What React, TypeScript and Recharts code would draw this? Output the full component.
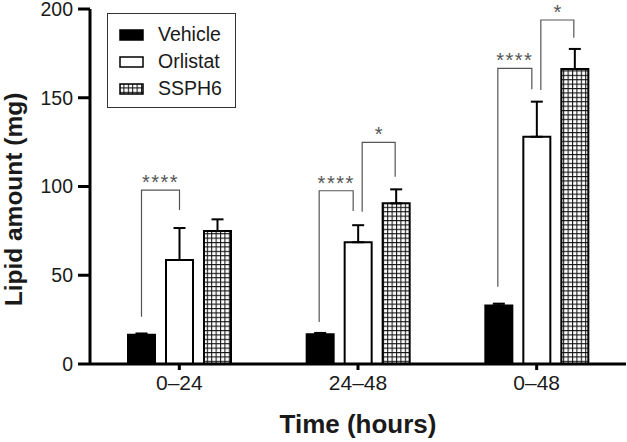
import React from "react";
import { Bar, BarChart, ErrorBar, Legend, Rectangle, XAxis, YAxis } from "recharts";

const categories = ["0–24", "24–48", "0–48"];
const seriesNames = ["Vehicle", "Orlistat", "SSPH6"];
const vehicle = [16.5, 16.8, 33];
const vehicleErr = [0.7, 0.7, 1];
const orlistat = [58.6, 68.6, 128];
const orlistatErr = [18, 9.6, 19.8];
const ssph6 = [74.9, 90.5, 166.2];
const ssph6Err = [6.6, 7.9, 11.3];
const yTicks = [0, 50, 100, 150, 200];

// significance brackets: series index of each leg, value where each leg stops, value of the top line
const brackets = [
  { category: 0, from: 0, to: 1, leftEnd: 26.6, rightEnd: 86.8, top: 98, label: "****" },
  { category: 1, from: 0, to: 1, leftEnd: 23.7, rightEnd: 86.2, top: 97.6, label: "****" },
  { category: 1, from: 1, to: 2, leftEnd: 85.8, rightEnd: 105.5, top: 124.9, label: "*" },
  { category: 2, from: 0, to: 1, leftEnd: 43.5, rightEnd: 154.8, top: 166.6, label: "****" },
  { category: 2, from: 1, to: 2, leftEnd: 154.4, rightEnd: 183.8, top: 193.8, label: "*" }
];

const data = categories.map((name, i) => ({
  name,
  vehicle: vehicle[i],
  vehicleErr: [0, vehicleErr[i]],
  orlistat: orlistat[i],
  orlistatErr: [0, orlistatErr[i]],
  ssph6: ssph6[i],
  ssph6Err: [0, ssph6Err[i]]
}));

const BAR_GAP = 11;
const FONT = "'Liberation Sans', Arial, sans-serif";
const TEXT = "#1a1a1a";
const BRACKET = "#555";

function GridPattern({ id }: { id: string }) {
  return (
    <pattern id={id} width={4.4} height={4.4} patternUnits="userSpaceOnUse">
      <rect width={4.4} height={4.4} fill="#fff" />
      <path d="M0 0.5 H4.4 M0.5 0 V4.4" stroke="#111" strokeWidth={1.1} />
    </pattern>
  );
}

function SsphShape(props: any) {
  const { x, y, width, height, index, payload } = props;
  const base = y + height;
  const k = height / payload.ssph6;
  const toY = (v: number) => base - v * k;
  const step = width + BAR_GAP;
  const center = x + width / 2;
  const centers = [center - 2 * step, center - step, center];
  const own = brackets.filter((b) => b.category === index);
  return (
    <g>
      <Rectangle x={x} y={y} width={width} height={height} fill="url(#grid)" stroke="#000" strokeWidth={2} />
      {own.map((b, i) => {
        const shared = own.length > 1;
        const lx = centers[b.from] + (shared && b.from === 1 ? 4 : 0) - (shared && b.from === 0 ? 1 : 0);
        const rx = centers[b.to] - (shared && b.to === 1 ? 5 : 0) - (shared && b.to === 2 ? 1 : 0);
        const ty = toY(b.top);
        return (
          <g key={i}>
            <path
              d={`M${lx} ${toY(b.leftEnd)} V${ty} H${rx} V${toY(b.rightEnd)}`}
              fill="none"
              stroke={BRACKET}
              strokeWidth={1.2}
            />
            <text
              x={(lx + rx) / 2}
              y={ty - 1}
              textAnchor="middle"
              fontSize={20}
              fill={BRACKET}
              letterSpacing={b.label.length > 1 ? 1.5 : 0}
            >
              {b.label}
            </text>
          </g>
        );
      })}
    </g>
  );
}

function LegendBox() {
  const fills = ["#000", "#fff", "url(#gridLegend)"];
  return (
    <div
      style={{
        width: 129,
        height: 95,
        boxSizing: "border-box",
        border: "1px solid #333",
        paddingTop: 7,
        fontFamily: FONT,
        background: "#fff"
      }}
    >
      <svg width={0} height={0} style={{ position: "absolute" }}>
        <defs>
          <GridPattern id="gridLegend" />
        </defs>
      </svg>
      {seriesNames.map((name, i) => (
        <div key={name} style={{ display: "flex", alignItems: "center", height: 27, paddingLeft: 11 }}>
          <svg width={25} height={12}>
            <rect x={1} y={1} width={23} height={10} fill={fills[i]} stroke="#000" strokeWidth={1.5} />
          </svg>
          <span style={{ marginLeft: 14, fontSize: 19.5, color: TEXT, lineHeight: "27px" }}>{name}</span>
        </div>
      ))}
    </div>
  );
}

function YTitle({ viewBox }: any) {
  const cy = viewBox.y + viewBox.height / 2 + 13;
  return (
    <text
      transform={`translate(${viewBox.x + 22}, ${cy}) rotate(-90)`}
      textAnchor="middle"
      fontSize={24.5}
      fontWeight="bold"
      fill={TEXT}
    >
      Lipid amount (mg)
    </text>
  );
}

function XTitle({ viewBox }: any) {
  return (
    <text
      x={viewBox.x + viewBox.width / 2}
      y={viewBox.y + 69}
      textAnchor="middle"
      fontSize={26}
      fontWeight="bold"
      fill={TEXT}
    >
      Time (hours)
    </text>
  );
}

export default function App() {
  return (
    <div style={{ width: 627, height: 442, fontFamily: FONT, background: "#fff" }}>
      <style>{"body{margin:0}"}</style>
      <BarChart
        width={627}
        height={442}
        data={data}
        margin={{ top: 9, right: 1, bottom: 0, left: 0 }}
        barGap={BAR_GAP}
        barSize={27}
      >
        <defs>
          <GridPattern id="grid" />
        </defs>
        <XAxis
          dataKey="name"
          height={78}
          tickSize={6}
          tickMargin={5}
          axisLine={{ stroke: "#000", strokeWidth: 3 }}
          tickLine={{ stroke: "#000", strokeWidth: 3 }}
          tick={{ fontSize: 21, fill: TEXT }}
          label={<XTitle />}
        />
        <YAxis
          domain={[0, 200]}
          ticks={yTicks}
          interval={0}
          width={90}
          tickSize={12}
          tickMargin={5}
          axisLine={{ stroke: "#000", strokeWidth: 3 }}
          tickLine={{ stroke: "#000", strokeWidth: 3 }}
          tick={{ fontSize: 19.5, fill: TEXT }}
          label={<YTitle />}
        />
        <Legend
          layout="vertical"
          align="center"
          verticalAlign="middle"
          content={<LegendBox />}
          wrapperStyle={{ top: 13, left: 107, width: 129, height: 95 }}
        />
        <Bar dataKey="vehicle" fill="#000" stroke="#000" strokeWidth={2} isAnimationActive={false}>
          <ErrorBar dataKey="vehicleErr" width={6} stroke="#000" strokeWidth={2} />
        </Bar>
        <Bar dataKey="orlistat" fill="#fff" stroke="#000" strokeWidth={2} isAnimationActive={false}>
          <ErrorBar dataKey="orlistatErr" width={6} stroke="#000" strokeWidth={2} />
        </Bar>
        <Bar dataKey="ssph6" fill="url(#grid)" shape={<SsphShape />} isAnimationActive={false}>
          <ErrorBar dataKey="ssph6Err" width={6} stroke="#000" strokeWidth={2} />
        </Bar>
      </BarChart>
    </div>
  );
}
